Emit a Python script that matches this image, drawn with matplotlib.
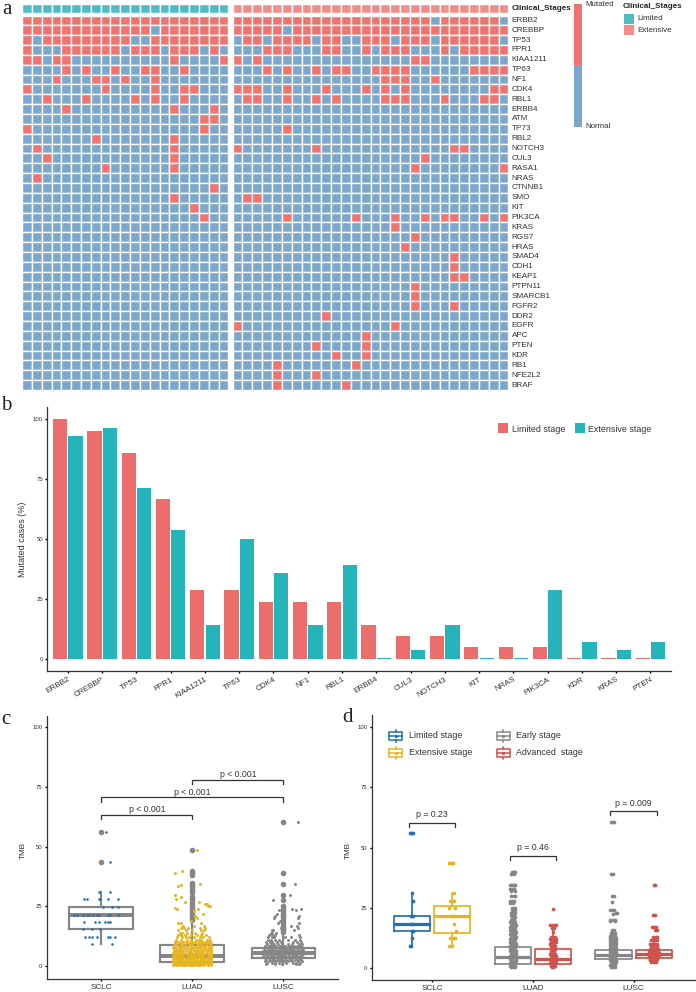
import numpy as np
import matplotlib
matplotlib.use('Agg')
import matplotlib.pyplot as plt
from matplotlib.colors import ListedColormap
from matplotlib.patches import Rectangle

W, H = 696, 992
plt.rcParams['font.family'] = ['Liberation Sans', 'DejaVu Sans']

RED = '#EF736F'
BLUE = '#7BA7CC'
ANN_TEAL = '#4DBCC6'
ANN_PINK = '#F28D8A'
BAR_RED = '#EC6E6C'
BAR_TEAL = '#26B4BB'
C_BLUE = '#2270B4'
C_YELLOW = '#E7B520'
C_GRAY = '#868686'
C_RED = '#CD534C'
DARK = '#333333'

# panel a
genes = ['ERBB2', 'CREBBP', 'TP53', 'FPR1', 'KIAA1211', 'TP63', 'NF1', 'CDK4', 'RBL1', 'ERBB4',
         'ATM', 'TP73', 'RBL2', 'NOTCH3', 'CUL3', 'RASA1', 'NRAS', 'CTNNB1', 'SMO', 'KIT',
         'PIK3CA', 'KRAS', 'RGS7', 'HRAS', 'SMAD4', 'CDH1', 'KEAP1', 'PTPN11', 'SMARCB1', 'FGFR2',
         'DDR2', 'EGFR', 'APC', 'PTEN', 'KDR', 'RB1', 'NFE2L2', 'BRAF']
# mutated column numbers per gene
limited_mut = [
    [0, 1, 2, 3, 4, 5, 6, 7, 8, 9, 10, 11, 12, 13, 14, 15, 16, 17, 18, 19, 20],
    [0, 1, 2, 3, 4, 5, 6, 7, 8, 9, 10, 11, 12, 14, 15, 16, 17, 18, 19, 20],
    [0, 2, 3, 4, 5, 6, 7, 8, 9, 10, 13, 14, 15, 16, 17, 18, 19, 20],
    [0, 4, 5, 6, 7, 8, 9, 11, 12, 13, 15, 16, 17, 19],
    [0, 1, 3, 4, 15, 20], [4, 6, 9, 12, 13, 16], [3, 7, 8, 10, 13], [0, 8, 13, 16, 17],
    [2, 6, 11, 13, 16], [4, 15, 19], [18, 19], [0, 18], [7, 15], [1, 15], [2, 15], [8, 15],
    [1], [19], [15], [17], [18], [], [], [], [], [], [], [], [], [], [], [], [], [], [], [], [], []]
extensive_mut = [
    [0, 1, 2, 3, 4, 5, 6, 7, 8, 9, 10, 11, 12, 13, 14, 15, 16, 17, 18, 19, 21, 22, 23, 24, 25, 26],
    [0, 1, 2, 3, 4, 6, 7, 8, 9, 10, 11, 12, 13, 14, 15, 16, 17, 18, 19, 20, 21, 22, 23, 24, 25, 26, 27],
    [1, 2, 4, 5, 6, 7, 9, 10, 13, 14, 15, 17, 18, 19, 21, 22, 23, 24, 25, 26],
    [3, 4, 5, 9, 10, 13, 15, 16, 17, 21, 23, 24, 25, 26, 27],
    [0, 2, 18, 19], [3, 5, 8, 10, 11, 14, 15, 16, 17, 24, 25, 26, 27], [15, 16, 17, 20],
    [0, 1, 2, 5, 9, 13, 15, 17, 26, 27], [1, 2, 5, 8, 10, 15, 16, 17, 21, 25, 26],
    [], [], [5], [], [0, 8, 22, 23], [19], [18, 27], [], [], [1, 2], [],
    [5, 12, 16, 19, 21, 22, 25, 27], [16], [18], [17], [22], [22], [22, 23], [18], [18], [18, 22],
    [9], [0, 16], [13], [8, 13], [10, 13], [4, 12], [4, 8], [4, 11]]

# panel b
bar_genes = ['ERBB2', 'CREBBP', 'TP53', 'FPR1', 'KIAA1211', 'TP63', 'CDK4', 'NF1', 'RBL1', 'ERBB4',
             'CUL3', 'NOTCH3', 'KIT', 'NRAS', 'PIK3CA', 'KDR', 'KRAS', 'PTEN']
bar_limited = [100, 95.2, 85.7, 66.7, 28.6, 28.6, 23.8, 23.8, 23.8, 14.3, 9.5, 9.5, 4.8, 4.8, 4.8, 0.5, 0.5, 0.5]
bar_extensive = [92.9, 96.4, 71.4, 53.6, 14.3, 50, 35.7, 14.3, 39.3, 0.5, 3.6, 14.3, 0.5, 0.5, 28.6, 7.1, 3.6, 7.1]
pct_ticks = [0, 25, 50, 75, 100]

# panel c: box stats (q1, median, q3, low whisker, high whisker)
c_groups = ['SCLC', 'LUAD', 'LUSC']
c_sclc_box = [15.4, 21.6, 24.9, 9.2, 31]
c_luad_box = [1.7, 4.3, 8.8, 0.3, 19]
c_lusc_box = [3.5, 5.3, 7.7, 0.3, 14]
c_sclc_out = [43.5, 56]
c_luad_out = [19.5, 20.5, 21.5, 22.5, 23.5, 24.5, 25.5, 26.5, 27.5, 28.5, 29.5, 31, 32, 33, 34, 35, 38, 39, 40, 48.5]
c_lusc_out = [14.5, 15, 16, 17, 18, 19, 20, 21, 22, 23, 24, 25, 27.5, 30, 34.5, 39, 60.5]

# jittered points: level value, then offsets from the group centre
c_sclc_levels = [56, 43.5, 31, 28, 24.9, 21.6, 18.5, 15.4, 12.3, 9.2]
c_sclc_offs = [[.05], [.10], [-.03, .09], [-.19, -.16, -.03, -.01, .07, .18], [.02, .12, .18],
               [-.30, -.27, -.20, -.16, -.13, -.09, -.05, -.03, .07, .10, .18],
               [-.19, -.07, -.03, .04, .07, .09], [-.20, -.10, -.01],
               [-.18, -.14, -.10, -.05, .07, .10, .15], [-.10, .12]]
c_luad_levels = [48.5, 40, 39, 34.5, 34, 33.5, 30, 29, 28, 27, 26, 25, 24.5, 24, 23, 22, 21, 20, 19, 18,
                 17, 16, 15, 14, 13, 12, 11, 10.2, 9.5, 8.8, 8.2, 7.5, 6.9, 6.2, 5.6, 4.9, 4.3, 3.6, 2.9, 2.3,
                 1.6, 1.0, 0.4]
c_luad_offs = [[.055], [-.11], [-.19], [.08], [-.13], [-.16], [-.19], [-.12], [-.18], [-.08, .07], [.14, .16],
               [.17, .19], [-.19], [-.17, .06], [.02], [.12], [.03], [.05], [-.02], [-.16, -.12, .10],
               [-.10, .02, .13], [-.13, -.09, -.05, .14, .08], [-.16, .0, .09, .13, -.07], [-.14, -.06, .03, .11, -.11],
               [-.12, -.08, -.01, .05, .15, .10, -.16], [-.17, -.11, -.04, .02, .08, .12, .18, -.07],
               [-.18, -.13, -.06, -.02, .04, .10, .16, .19, .07],
               [-.16, -.10, -.07, -.01, .03, .07, .12, .18, -.19, .15],
               [-.19, -.14, -.11, -.05, .01, .06, .09, .14, .17, -.02, .20],
               [-.17, -.13, -.08, -.03, .00, .05, .11, .15, .19, -.20, .08, -.11],
               [-.20, -.15, -.12, -.06, -.02, .03, .08, .13, .18, -.09, .21, .05],
               [-.18, -.14, -.09, -.05, .01, .06, .10, .14, .17, .20, -.21, -.02],
               [-.19, -.16, -.11, -.07, -.03, .02, .05, .09, .13, .19, -.13, .16, .21],
               [-.20, -.15, -.10, -.06, -.01, .04, .07, .12, .16, .18, -.18, -.03, .21],
               [-.18, -.13, -.09, -.04, .00, .03, .08, .11, .15, .20, -.21, -.16, .06],
               [-.20, -.16, -.12, -.07, -.02, .02, .06, .10, .14, .18, -.10, -.04, .21],
               [-.19, -.14, -.10, -.05, -.01, .04, .09, .12, .17, .20, -.21, -.17, .07, .01],
               [-.20, -.17, -.13, -.08, -.03, .01, .05, .08, .13, .16, .19, -.11, -.06, .21],
               [-.18, -.15, -.11, -.06, -.03, .02, .05, .09, .13, .17, .20, -.21, -.01, .11],
               [-.20, -.16, -.12, -.09, -.04, .00, .04, .09, .12, .17, .19, -.18, -.07, .07, .15],
               [-.19, -.14, -.10, -.07, -.01, .02, .06, .10, .14, .18, .20, -.21, -.04, .04, .12],
               [-.20, -.17, -.13, -.08, -.05, -.01, .03, .07, .11, .16, .19, -.15, -.11, .09, .21],
               [-.18, -.15, -.11, -.06, -.03, .02, .05, .09, .13, .17, .20, -.21, -.09, .00, .07]]
c_lusc_levels = [60.5, 34.5, 30, 27.5, 24, 23.5, 22, 21, 20, 19, 18, 17, 16, 15, 14, 13, 12, 11, 10, 9.3,
                 8.6, 8, 7.4, 6.8, 6.2, 5.6, 5, 4.4, 3.8, 3.2, 2.6, 2, 1.4, .8]
c_lusc_offs = [[.16], [.13], [.07], [-.11], [.10, .19], [-.05, .14], [-.07, -.02], [-.09, .17], [-.10, .16],
               [-.04, .01], [-.06, .17], [.08, .15], [-.03, .16], [-.13, -.11, .12], [-.14, -.12, -.08, -.02],
               [-.16, -.12, -.09, .17], [-.17, -.13, -.10, .02, .08, .18], [-.17, -.14, -.09, -.05, .05, .13, .18],
               [-.19, -.15, -.12, -.07, -.03, .11, .15, .19], [-.18, -.14, -.10, -.06, -.01, .05, .10, .17, .20],
               [-.20, -.16, -.11, -.08, -.04, .02, .07, .12, .15, .18, -.13, .00],
               [-.19, -.15, -.12, -.07, -.03, .01, .05, .09, .14, .17, .21, -.10, -.01],
               [-.21, -.17, -.13, -.09, -.05, .00, .03, .08, .12, .16, .20, .06, -.02],
               [-.20, -.16, -.12, -.08, -.04, -.01, .04, .07, .11, .15, .19, .22, .01, -.14],
               [-.22, -.18, -.14, -.10, -.06, -.02, .02, .06, .10, .13, .17, .21, -.12, .04],
               [-.21, -.17, -.13, -.09, -.05, -.01, .03, .07, .12, .16, .20, -.19, .09, .14],
               [-.20, -.16, -.12, -.08, -.03, .01, .05, .09, .14, .18, .22, -.14, -.06, .11],
               [-.22, -.18, -.14, -.10, -.06, -.02, .02, .06, .11, .15, .19, .13, -.04],
               [-.21, -.17, -.13, -.09, -.05, .00, .04, .08, .12, .17, .21, -.11, .02],
               [-.20, -.16, -.11, -.07, -.03, .02, .06, .10, .14, .18, -.13, .08],
               [-.19, -.15, -.10, -.06, -.01, .03, .07, .13, .19, -.04, .16],
               [-.20, -.13, -.08, -.04, .05, .09, .16, .20, -.16, .01], [-.18, -.12, -.05, .03, .11, .18, -.09, .14],
               [-.19, -.09, .14, .17, -.02]]

# panel d: box stats and points per stage
d_stage_boxes = [[15.4, 18.5, 21.7, 9.4, 31], [14.7, 21.7, 25.6, 9.4, 31],
                 [1.8, 4.6, 8.9, 0.3, 19], [1.8, 4.0, 7.9, 0.5, 16],
                 [3.6, 5.5, 7.7, 0.3, 13.7], [4.3, 6.0, 7.7, 2.0, 12]]
d_limited_levels = [56, 31, 28, 21.6, 18.5, 15.4, 12.3, 9.2]
d_limited_offs = [[-.02, -.01, .0, .01], [.0], [.01], [-.01, .0, .01], [-.01, .01], [.0, .01], [.0], [-.02, -.01]]
d_extens_levels = [43.5, 31, 28, 25, 21.6, 18.5, 15.4, 12.3, 9.2]
d_extens_offs = [[-.03, -.01, .0, .01], [.02], [-.02, .0, .02], [-.03, .03], [-.01, .0, .02], [.02], [.04],
                 [-.02, .01, .03], [-.03, .0]]
d_early_ad_levels = [40, 39, 34.5, 33, 32, 30, 28, 27, 25, 24, 23, 22, 21, 20, 19, 18, 17, 16, 15, 14, 13, 12,
                     11, 10, 9, 8, 7, 6, 5, 4, 3, 2, 1, .3]
d_early_ad_offs = [[-.01, .0, .01, .02], [-.02, .01], [-.03, -.02, .0, .02, .01], [-.03, .0, .01], [-.02, .02],
                   [-.02, .01, .02], [-.03, -.01, .01], [-.03, .0], [-.01, .01, .02], [-.01, .02],
                   [-.02, .0, .02], [-.02, .01], [-.01, .02], [-.02, .0, .01], [-.03, .0, .02], [-.02, .01, .03],
                   [-.03, -.01, .02], [-.03, .0, .02], [-.02, .0, .03], [-.03, -.01, .02], [-.02, .01, .03],
                   [-.03, .0, .02], [-.03, -.01, .02], [-.02, .01, .03], [-.03, .0, .03], [-.03, -.01, .02],
                   [-.03, .0, .03], [-.02, .01, .03], [-.03, .0, .02], [-.03, -.01, .03], [-.02, .01, .03],
                   [-.03, .0, .02], [-.03, -.01, .02], [-.02, .0, .02]]
d_adv_ad_levels = [24.5, 18, 16.5, 15, 13, 12, 11, 10, 9, 8, 7, 6, 5, 4, 3, 2, 1, .5]
d_adv_ad_offs = [[.0], [-.03, -.01, .02, .03], [-.01, .01], [.0], [-.02, .0, .02], [-.03, -.01, .01, .03],
                 [-.02, .0, .03], [-.03, .01], [-.02, .0, .02], [-.01, .02], [-.02, .01], [-.03, .0, .02],
                 [-.02, .01, .03], [-.03, .0, .02], [-.02, .01, .03], [-.03, .0, .02], [-.02, .01, .02], [-.01, .0]]
d_early_sq_levels = [60.5, 39, 30, 27.5, 24, 23, 22.5, 20, 19.5, 16, 14.5, 13.5, 12.5, 11.5, 10.5, 9.5, 8.5, 7.5,
                     6.5, 5.5, 4.5, 3.5, 2.5, 1.5, .4]
d_early_sq_offs = [[-.02, .0, .01], [-.02, .0], [-.01, .01], [-.01], [-.03, -.01, .01], [.03, .04], [.0],
                   [-.03, .0, .02], [-.03, .02], [-.01, .01], [-.02, .0, .02], [-.03, -.01, .02],
                   [-.03, -.01, .02, .03], [-.03, .0, .02, .03], [-.03, -.01, .01, .03], [-.03, .0, .03],
                   [-.03, -.01, .02, .03], [-.03, .0, .02], [-.03, -.01, .01, .03], [-.03, .0, .03],
                   [-.03, -.01, .02], [-.03, .0, .03], [-.02, .01, .03], [-.03, -.01, .02], [-.02, .0, .02]]
d_adv_sq_levels = [34.5, 22, 17, 16, 13, 11.5, 10, 9, 8, 7, 6.2, 5.5, 4.8, 4, 3.2, 2.4]
d_adv_sq_offs = [[.0, .01], [-.01, .01], [-.02, .0, .02], [.01, .03], [-.01, .02, .03], [-.03, -.01, .01, .03],
                 [-.04, -.02, .01, .03], [-.03, .0, .03], [-.04, -.01, .02, .04], [-.05, -.02, .01, .04],
                 [-.05, -.02, .02, .05], [-.04, -.01, .03, .05], [-.05, -.02, .01, .04], [-.04, .0, .03],
                 [-.04, -.01, .02], [-.03, .0, .02]]


def px_ax(x0, y0, x1, y1):
    return fig.add_axes([x0 / W, 1 - y1 / H, (x1 - x0) / W, (y1 - y0) / H])


def style_ax(ax):
    ax.spines['top'].set_visible(False)
    ax.spines['right'].set_visible(False)
    ax.spines['left'].set_color(DARK)
    ax.spines['bottom'].set_color(DARK)
    ax.spines['left'].set_linewidth(0.9)
    ax.spines['bottom'].set_linewidth(0.9)
    ax.tick_params(axis='y', length=1.5, width=1, labelsize=4.3, pad=1.5, color='black', labelcolor=DARK)
    ax.tick_params(axis='x', length=1.5, width=1, color='black', labelcolor=DARK)


def heat_block(box, mut, n_cols):
    ax = px_ax(*box)
    grid = np.zeros((len(genes), n_cols))
    for row, cols in enumerate(mut):
        grid[row, cols] = 1
    ax.pcolormesh(grid, cmap=ListedColormap([BLUE, RED]), vmin=0, vmax=1, edgecolors='white',
                  linewidth=1.0, antialiased=True)
    ax.set_ylim(len(genes), 0)
    ax.axis('off')
    return ax


def ann_block(box, n_cols, color):
    ax = px_ax(*box)
    ax.pcolormesh(np.zeros((1, n_cols)), cmap=ListedColormap([color]), edgecolors='white',
                  linewidth=1.0, antialiased=True)
    ax.axis('off')


def draw_boxes(ax, boxes, positions, width, colors, fliers=None, lw=1.2, med_lw=2.0):
    stats = []
    for i, b in enumerate(boxes):
        stats.append({'q1': b[0], 'med': b[1], 'q3': b[2], 'whislo': b[3], 'whishi': b[4],
                      'fliers': fliers[i] if fliers else []})
    art = ax.bxp(stats, positions=positions, widths=width, showcaps=False, showfliers=bool(fliers),
                 patch_artist=False, manage_ticks=False, zorder=2,
                 flierprops=dict(marker='o', markersize=3.0, markerfacecolor=C_GRAY, markeredgecolor=C_GRAY))
    for i, c in enumerate(colors):
        art['boxes'][i].set(color=c, linewidth=lw)
        art['medians'][i].set(color=c, linewidth=med_lw, solid_capstyle='butt')
        art['whiskers'][2 * i].set(color=c, linewidth=lw)
        art['whiskers'][2 * i + 1].set(color=c, linewidth=lw)


def draw_points(ax, center, levels, offs, color, size):
    xs, ys = [], []
    for lev, row in zip(levels, offs):
        for o in row:
            xs.append(center + o)
            ys.append(lev)
    ax.scatter(xs, ys, s=size, color=color, linewidths=0, zorder=3)


def bracket(ax, x0, x1, y, tip, label, text_y):
    ax.plot([x0, x0, x1, x1], [y - tip, y, y, y - tip], color=DARK, lw=0.9, solid_joinstyle='miter', zorder=4)
    ax.text((x0 + x1) / 2, text_y, label, ha='center', va='center', fontsize=6.3, color=DARK)


fig = plt.figure(figsize=(W / 100, H / 100), dpi=100)

# a: heatmap
heat_block((22, 15.5, 228.5, 390), limited_mut, 21)
heat_block((232.5, 15.5, 508.5, 390), extensive_mut, 28)
ann_block((22, 4.4, 228.5, 12.8), 21, ANN_TEAL)
ann_block((232.5, 4.4, 508.5, 12.8), 28, ANN_PINK)

# overlay in picture pixels for labels and legends
ov = fig.add_axes([0, 0, 1, 1], zorder=10)
ov.set_xlim(0, W)
ov.set_ylim(H, 0)
ov.axis('off')
ov.patch.set_alpha(0)

row_h = (390 - 15.5) / len(genes)
for i, g in enumerate(genes):
    ov.text(511.5, 15.5 + row_h * (i + 0.5), g, ha='left', va='center', fontsize=5.9, color=DARK)
ov.text(511.5, 8.7, 'Clinical_Stages', ha='left', va='center', fontsize=5.8, fontweight='bold', color='#222222')
ov.add_patch(Rectangle((573.7, 4), 8.3, 61, color=RED, lw=0))
ov.add_patch(Rectangle((573.7, 65), 8.3, 62, color=BLUE, lw=0))
ov.text(585.5, 4, 'Mutated', ha='left', va='center', fontsize=5.7, color=DARK)
ov.text(585.5, 127, 'Normal', ha='left', va='center', fontsize=5.7, color=DARK)
ov.text(623, 7, 'Clinical_Stages', ha='left', va='center', fontsize=5.8, fontweight='bold', color='#222222')
ov.add_patch(Rectangle((624, 13.5), 10, 10, color=ANN_TEAL, lw=0))
ov.add_patch(Rectangle((624, 25), 10, 10, color=ANN_PINK, lw=0))
ov.text(637, 18.5, 'Limited', ha='left', va='center', fontsize=5.8, color=DARK)
ov.text(637, 30, 'Extensive', ha='left', va='center', fontsize=5.8, color=DARK)

for lab, x, y in [('a', 2, 9), ('b', 1, 405), ('c', 1, 719), ('d', 342, 718)]:
    ov.text(x, y, lab, ha='left', va='center', fontsize=15, family=['Liberation Serif'], color='#222222')

# b: bars
ax_b = px_ax(47.3, 407, 671, 671)
x_pos = np.arange(len(bar_genes))
ax_b.bar(x_pos - 0.225, bar_limited, width=0.415, color=BAR_RED)
ax_b.bar(x_pos + 0.225, bar_extensive, width=0.415, color=BAR_TEAL)
ax_b.set_xlim(-0.6, len(bar_genes) - 0.4)
ax_b.set_ylim(-5, 105)
ax_b.set_yticks(pct_ticks)
ax_b.set_xticks(x_pos)
ax_b.set_xticklabels(bar_genes, rotation=30, ha='right', rotation_mode='anchor', fontsize=5.9)
ax_b.set_ylabel('Mutated cases (%)', fontsize=6.5, color=DARK)
ax_b.yaxis.set_label_coords((27 - 47.3) / 623.7, 0.5)
style_ax(ax_b)
ax_b.tick_params(axis='x', pad=2)

ov.add_patch(Rectangle((498, 423), 10, 10, color=BAR_RED, lw=0))
ov.add_patch(Rectangle((574.7, 423), 10, 10, color=BAR_TEAL, lw=0))
ov.text(512, 429, 'Limited stage', ha='left', va='center', fontsize=6.4, color=DARK)
ov.text(588.5, 429, 'Extensive stage', ha='left', va='center', fontsize=6.4, color=DARK)

# c: box + jitter by histology
ax_c = px_ax(46.7, 716, 338, 979)
draw_boxes(ax_c, [c_sclc_box, c_luad_box, c_lusc_box], [0, 1, 2], 0.7, [C_GRAY] * 3,
           fliers=[c_sclc_out, c_luad_out, c_lusc_out], lw=1.55, med_lw=2.9)
draw_points(ax_c, 0, c_sclc_levels, c_sclc_offs, C_BLUE, 3.4)
draw_points(ax_c, 1, c_luad_levels, c_luad_offs, C_YELLOW, 4.6)
draw_points(ax_c, 2, c_lusc_levels, c_lusc_offs, C_GRAY, 4.6)
ax_c.set_xlim(-0.6, 2.6)
ax_c.set_ylim(-5.4, 104.8)
ax_c.set_yticks(pct_ticks)
ax_c.set_xticks([0, 1, 2])
ax_c.set_xticklabels(c_groups, fontsize=5.9)
ax_c.set_ylabel('TMB', fontsize=5.9, color=DARK)
ax_c.yaxis.set_label_coords((27 - 46.7) / 291.3, 0.49)
style_ax(ax_c)
ax_c.tick_params(axis='x', pad=2)
bracket(ax_c, 0, 1, 63.5, 1.8, 'p < 0.001', 65.7)
bracket(ax_c, 0, 2, 70.7, 1.8, 'p < 0.001', 72.9)
bracket(ax_c, 1, 2, 78, 1.8, 'p < 0.001', 80.2)

# d: box + jitter by stage
ax_d = px_ax(371.7, 715, 695, 980)
d_pos = [-0.2, 0.2, 0.8, 1.2, 1.8, 2.2]
d_colors = [C_BLUE, C_YELLOW, C_GRAY, C_RED, C_GRAY, C_RED]
draw_boxes(ax_d, d_stage_boxes, d_pos, 0.36, d_colors, lw=1.25, med_lw=2.3)
draw_points(ax_d, d_pos[0], d_limited_levels, d_limited_offs, C_BLUE, 7)
draw_points(ax_d, d_pos[1], d_extens_levels, d_extens_offs, C_YELLOW, 7)
draw_points(ax_d, d_pos[2], d_early_ad_levels, d_early_ad_offs, C_GRAY, 7)
draw_points(ax_d, d_pos[3], d_adv_ad_levels, d_adv_ad_offs, C_RED, 7)
draw_points(ax_d, d_pos[4], d_early_sq_levels, d_early_sq_offs, C_GRAY, 7)
draw_points(ax_d, d_pos[5], d_adv_sq_levels, d_adv_sq_offs, C_RED, 7)
ax_d.set_xlim(-0.6, 2.61)
ax_d.set_ylim(-4.9, 104.9)
ax_d.set_yticks(pct_ticks)
ax_d.set_xticks([0, 1, 2])
ax_d.set_xticklabels(c_groups, fontsize=5.9)
ax_d.set_ylabel('TMB', fontsize=5.9, color=DARK)
ax_d.yaxis.set_label_coords((351.7 - 371.7) / 323.3, 0.49)
style_ax(ax_d)
ax_d.tick_params(axis='x', pad=2)
bracket(ax_d, -0.23, 0.23, 60.3, 1.8, 'p = 0.23', 63.6)
bracket(ax_d, 0.775, 1.23, 46.5, 1.8, 'p = 0.46', 50)
bracket(ax_d, 1.77, 2.23, 65.1, 1.8, 'p = 0.009', 68.4)

legend_rows = [(389.3, 736, C_BLUE, 'Limited stage'), (389.3, 752.7, C_YELLOW, 'Extensive stage'),
               (497, 736, C_GRAY, 'Early stage'), (497, 752.7, C_RED, 'Advanced  stage')]
for x, y, col, lab in legend_rows:
    ov.add_patch(Rectangle((x, y - 4.2), 12.6, 8.4, fill=False, edgecolor=col, lw=1.1))
    ov.plot([x, x + 12.6], [y, y], color=col, lw=1.1)
    ov.plot([x + 6.3, x + 6.3], [y - 6, y - 4.2], color=col, lw=1.1)
    ov.plot([x + 6.3, x + 6.3], [y + 4.2, y + 6], color=col, lw=1.1)
    ov.plot([x + 6.3], [y], marker='o', ms=2.4, color=col, mew=0)
    ov.text(x + 19.4, y, lab, ha='left', va='center', fontsize=6.4, color=DARK)

fig.savefig('out.png', dpi=100)
